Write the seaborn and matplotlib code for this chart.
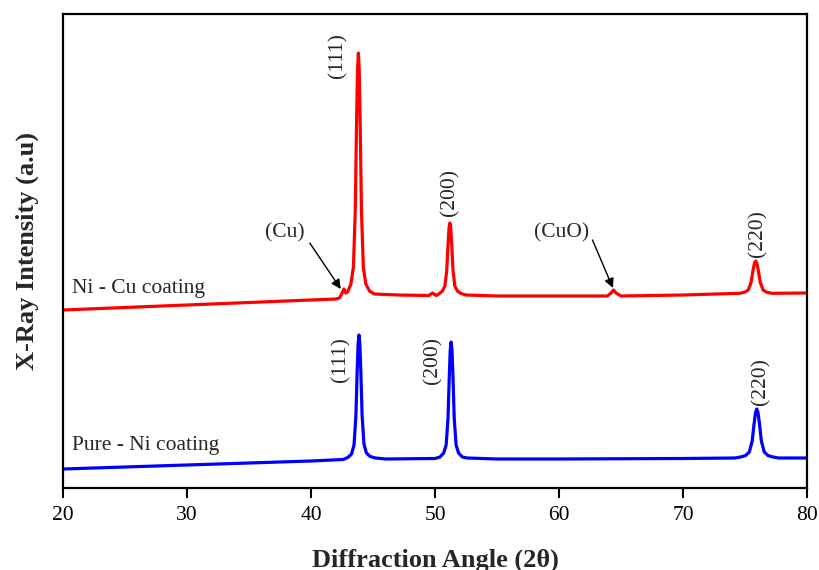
import pandas as pd
import seaborn as sns
import matplotlib.pyplot as plt

# Ni - Cu coating pattern (2theta, intensity a.u.)
nicu_angle = [20, 25, 30, 35, 40, 42.0, 42.3, 42.55, 42.66, 42.8, 42.95,
              43.22, 43.42, 43.57, 43.67, 43.75, 43.82, 43.89, 43.97, 44.07,
              44.22, 44.42, 44.72, 45.1, 47, 49.5, 49.8, 50.1, 50.3, 50.6,
              50.8, 50.95, 51.05, 51.13, 51.2, 51.27, 51.35, 51.45, 51.6,
              51.8, 52.1, 52.5, 55, 60, 63.9, 64.2, 64.4, 64.6, 65.0, 70, 74.56,
              74.96, 75.26, 75.49, 75.64, 75.76, 75.86, 75.96, 76.08, 76.23,
              76.46, 76.76, 77.16, 80]
nicu_intensity = [178, 180.5, 183, 185.5, 188, 189, 190, 196, 199, 195, 196,
                  204, 221, 277, 362, 418, 435, 418, 362, 277,
                  221, 204, 197, 194, 193, 192.5, 195, 192.5, 194, 197,
                  202, 218, 243, 260, 265, 260, 243, 218, 202,
                  197, 194.5, 193, 192, 192, 192, 195, 198, 195, 192, 193, 194.7,
                  195.7, 198, 205.6, 217, 224.7, 227, 224.7, 217, 205.6,
                  198, 195.7, 194.7, 195]

# Pure - Ni coating pattern
ni_angle = [20, 25, 30, 35, 40, 42.6, 42.97, 43.27, 43.47, 43.62, 43.72, 43.8,
            43.87, 43.94, 44.02, 44.12, 44.27, 44.47, 44.77, 45.2, 46, 50.0, 50.4,
            50.7, 50.9, 51.05, 51.15, 51.23, 51.3, 51.37, 51.45, 51.55,
            51.7, 51.9, 52.2, 52.6, 55, 60, 70, 74.2, 74.65, 75.05, 75.35, 75.58,
            75.73, 75.85, 75.95, 76.05, 76.17, 76.32, 76.55, 76.85, 77.25, 77.7, 80]
ni_intensity = [19, 21, 23, 25, 27, 28.5, 30.5, 34, 43, 72, 115.5, 144,
                153, 144, 116, 73, 44, 35, 31.5, 30, 29, 29.5, 31,
                35, 43, 70, 111, 138, 146, 138, 111, 70,
                43, 35, 31, 30, 29, 29, 29.5, 30, 31, 32.5, 36, 47,
                64, 75.5, 79, 75.5, 64, 47, 36, 32.5, 31, 30, 30]

# peak labels: text, 2theta, intensity (centre of rotated label)
peak_labels = ['(111)', '(200)', '(220)', '(111)', '(200)', '(220)']
peak_label_x = [42.18, 51.2, 76.0, 42.4, 49.8, 76.3]
peak_label_y = [432, 296, 254, 128, 127, 106]

# arrowed phase labels
phase_labels = ['(Cu)', '(CuO)']
phase_label_xy = [(37.9, 255), (60.2, 255)]
phase_arrow_from = [(39.9, 245), (62.7, 248)]
phase_arrow_to = [(42.4, 199), (64.35, 200)]

nicu = pd.DataFrame({'angle': nicu_angle, 'intensity': nicu_intensity})
ni = pd.DataFrame({'angle': ni_angle, 'intensity': ni_intensity})

sns.set_style('ticks')
plt.rcParams['font.family'] = ['Liberation Serif', 'DejaVu Serif']

fig = plt.figure(figsize=(8.19, 5.70), dpi=100)
ax = fig.add_axes([63 / 819, 82 / 570, 744 / 819, 474 / 570])

sns.lineplot(data=nicu, x='angle', y='intensity', color='#ff0000',
             linewidth=2.3, sort=False, ax=ax)
sns.lineplot(data=ni, x='angle', y='intensity', color='#0000ff',
             linewidth=2.3, sort=False, ax=ax)

ax.set_xlim(20, 80)
ax.set_ylim(0, 474)
ax.set_xticks([20, 30, 40, 50, 60, 70, 80])
ax.set_yticks([])
ax.tick_params(axis='x', direction='out', length=7, width=1.5,
               labelsize=15.5, pad=6, colors='black')
for side in ['left', 'right', 'top', 'bottom']:
    ax.spines[side].set_visible(True)
    ax.spines[side].set_linewidth(1.6)
    ax.spines[side].set_color('black')

ax.set_xlabel('Diffraction Angle (2θ)', fontsize=19, fontweight='bold')
ax.set_ylabel('X-Ray Intensity (a.u)', fontsize=19, fontweight='bold')
ax.xaxis.set_label_coords(0.5, -0.127)
ax.yaxis.set_label_coords(-0.032, 0.5)

ax.text(20.7, 195, 'Ni - Cu coating', fontsize=15.5, ha='left', va='baseline')
ax.text(20.7, 38, 'Pure - Ni coating', fontsize=15.5, ha='left', va='baseline')

for lab, x, y in zip(peak_labels, peak_label_x, peak_label_y):
    ax.text(x, y, lab, fontsize=15.5, rotation=90, ha='center', va='center')

for lab, xy, p0, p1 in zip(phase_labels, phase_label_xy, phase_arrow_from, phase_arrow_to):
    ax.text(xy[0], xy[1], lab, fontsize=15.5, ha='center', va='center')
    ax.annotate('', xy=p1, xytext=p0,
                arrowprops=dict(arrowstyle='-|>', color='black', lw=1,
                                mutation_scale=14, shrinkA=0, shrinkB=0))

fig.savefig('out.png', dpi=100)
